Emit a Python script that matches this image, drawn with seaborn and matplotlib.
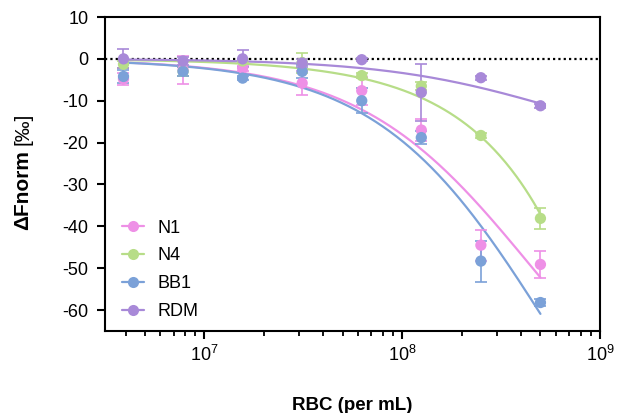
import numpy as np
import pandas as pd
import matplotlib
matplotlib.use("Agg")
import matplotlib.pyplot as plt
from matplotlib.lines import Line2D
from matplotlib.ticker import LogLocator, NullFormatter
import seaborn as sns

# ---- data ----
rbc = [3.90625e6, 7.8125e6, 1.5625e7, 3.125e7, 6.25e7, 1.25e8, 2.5e8, 5e8]
series = ["N1", "N4", "BB1", "RDM"]
n1 = [-4.8, -2.6, -2.2, -5.8, -7.6, -17.0, -44.5, -49.1]
n1_err = [1.4, 3.4, 0.6, 2.8, 3.3, 2.6, 3.7, 3.3]
n4 = [-1.3, -3.0, -0.5, -0.9, -4.0, -6.5, -18.3, -38.1]
n4_err = [0.8, 1.0, 0.5, 2.4, 0.6, 1.0, 0.7, 2.5]
bb1 = [-4.2, -3.0, -4.6, -3.0, -10.0, -18.8, -48.3, -58.2]
bb1_err = [1.5, 1.0, 0.5, 1.5, 3.0, 1.5, 4.9, 0.8]
rdm = [0.0, -0.5, 0.0, -1.0, -0.2, -8.0, -4.5, -11.2]
rdm_err = [2.3, 1.0, 2.0, 1.0, 0.3, 6.8, 0.5, 0.5]

colors = {"N1": "#EE90E6", "N4": "#B7DD88", "BB1": "#7BA1D8", "RDM": "#A889D8"}

values = {"N1": n1, "N4": n4, "BB1": bb1, "RDM": rdm}
errors = {"N1": n1_err, "N4": n4_err, "BB1": bb1_err, "RDM": rdm_err}

rows = []
for s in series:
    for xv, yv, ev in zip(rbc, values[s], errors[s]):
        rows.append({"RBC": xv, "dF": yv, "err": ev, "series": s})
df = pd.DataFrame(rows)


def fit_binding(x, y):
    """Least-squares fit of y = B * x / (K + x) (single-site binding)."""
    x = np.asarray(x, float)
    y = np.asarray(y, float)
    best = None
    for K in np.logspace(6, 13, 3000):
        f = x / (K + x)
        B = np.sum(y * f) / np.sum(f * f)
        sse = np.sum((y - B * f) ** 2)
        if best is None or sse < best[0]:
            best = (sse, B, K)
    return best[1], best[2]


fit_rows = []
xs = np.geomspace(rbc[0], rbc[-1], 300)
for s in series:
    B, K = fit_binding(rbc, values[s])
    for xv in xs:
        fit_rows.append({"RBC": xv, "dF": B * xv / (K + xv), "series": s})
fit_df = pd.DataFrame(fit_rows)

# ---- style ----
sns.set_theme(style="ticks")
plt.rcParams["font.family"] = ["Liberation Sans", "DejaVu Sans"]
plt.rcParams["axes.unicode_minus"] = False
plt.rcParams["text.color"] = "black"
plt.rcParams["axes.labelcolor"] = "black"
plt.rcParams["mathtext.fontset"] = "custom"
plt.rcParams["mathtext.rm"] = "Liberation Sans"
plt.rcParams["mathtext.it"] = "Liberation Sans"
plt.rcParams["mathtext.bf"] = "Liberation Sans:bold"

fig = plt.figure(figsize=(6.34, 4.13), dpi=100)
ax = fig.add_axes([105 / 634, 1 - 331 / 413, 495 / 634, 314 / 413])

ax.axhline(0, color="black", linestyle=(0, (1.0, 1.4)), linewidth=1.6, zorder=1)

sns.lineplot(data=fit_df, x="RBC", y="dF", hue="series", palette=colors,
             hue_order=series, ax=ax, legend=False, linewidth=1.6, zorder=2)

for s in series:
    sub = df[df.series == s]
    ax.errorbar(sub["RBC"], sub["dF"], yerr=sub["err"], fmt="none",
                ecolor=colors[s], elinewidth=1.2, capsize=4.3, capthick=1.2, zorder=3)

sns.scatterplot(data=df, x="RBC", y="dF", hue="series", palette=colors,
                hue_order=series, ax=ax, legend=False, s=66, linewidth=0,
                zorder=4)

ax.set_xscale("log")
ax.set_xlim(3.15e6, 1e9)
ax.set_ylim(-65, 10)
ax.set_yticks(np.arange(-60, 11, 10))
ax.xaxis.set_major_locator(LogLocator(base=10, numticks=10))
ax.xaxis.set_minor_locator(LogLocator(base=10, subs=np.arange(2, 10), numticks=20))
ax.xaxis.set_minor_formatter(NullFormatter())

for sp in ax.spines.values():
    sp.set_linewidth(1.5)
    sp.set_color("black")
ax.tick_params(axis="both", which="major", direction="out", length=5.8, width=1.5,
               labelsize=13, color="black", labelcolor="black")
ax.tick_params(axis="y", which="major", pad=6)
ax.tick_params(axis="x", which="minor", direction="out", length=3.6, width=1.3, color="black")
ax.tick_params(axis="x", which="major", pad=4)

ax.set_xlabel("RBC (per mL)", fontsize=13.5, fontweight="bold", labelpad=23)
ax.set_ylabel("")

# y label: bold "ΔFnorm" followed by regular "[‰]", sharing one baseline
t1 = fig.text(28 / 634, 1 - 230 / 413, "ΔFnorm", rotation=90, rotation_mode="anchor",
              ha="left", va="baseline", fontsize=15, fontweight="bold")
fig.canvas.draw()
bb = t1.get_window_extent(renderer=fig.canvas.get_renderer())
fig.text(28 / 634, (bb.y1 + 5) / fig.bbox.height, "[‰]", rotation=90,
         rotation_mode="anchor", ha="left", va="baseline", fontsize=15)

handles = [Line2D([0], [0], color=colors[s], marker="o", markersize=8,
                  markeredgewidth=0, linewidth=1.6) for s in series]
ax.legend(handles, series, loc="lower left", bbox_to_anchor=(0.034, 0.035),
          frameon=False, fontsize=13, handlelength=1.25, handletextpad=0.75,
          labelspacing=0.6, borderpad=0, borderaxespad=0, labelcolor="black")

fig.savefig("out.png", dpi=100)
